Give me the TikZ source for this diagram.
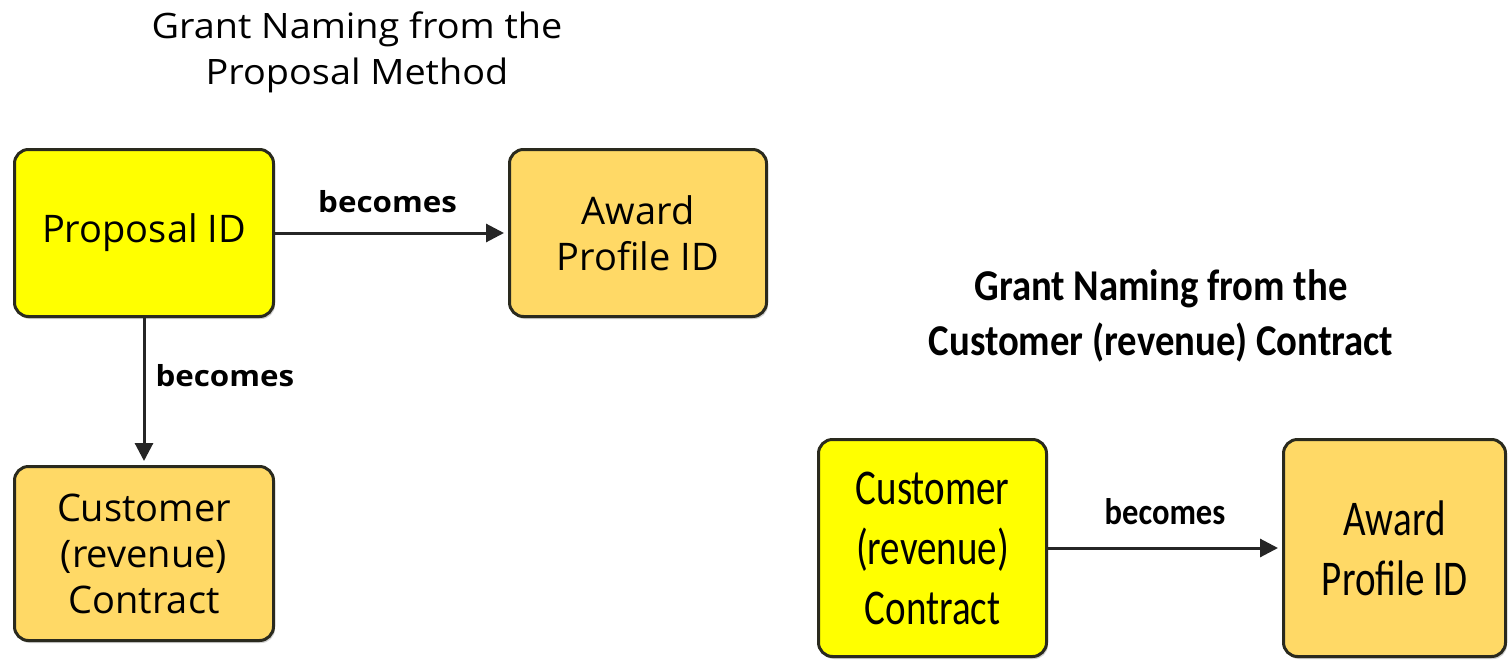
\documentclass[tikz,border=0pt]{standalone}
\usepackage{fontspec}
\setmainfont{Open Sans}
\newfontfamily\ltfont[FakeStretch=1.08]{Open Sans}
\newfontfamily\rfont[FakeStretch=0.78]{Carlito}
\newfontfamily\rtfont[FakeStretch=0.88]{Carlito}
\usetikzlibrary{arrows.meta,shadows}
\definecolor{boxyellow}{HTML}{FFFF00}
\definecolor{boxgold}{HTML}{FFD966}
\definecolor{edge}{HTML}{2A2A1E}
\begin{document}
\begin{tikzpicture}[x=1pt,y=-1pt,
  box/.style={draw=edge, line width=3pt, rounded corners=14pt, align=center,
    inner sep=0pt, drop shadow={shadow xshift=1.5pt, shadow yshift=-2.5pt, fill=black!30, opacity=0.6}},
  lbox/.style={box, font=\fontsize{38}{46}\selectfont},
  rbox/.style={box, font=\rfont\fontsize{50}{60}\selectfont},
  arr/.style={draw=black!85, line width=3pt, -{Triangle[length=18pt,width=18pt]}, shorten >=4pt},
  llab/.style={font=\ltfont\bfseries\fontsize{29}{35}\selectfont, inner sep=0pt},
  rlab/.style={font=\rtfont\bfseries\fontsize{37}{44}\selectfont, inner sep=0pt},
]
\useasboundingbox (0,0) rectangle (1509,661);

\node[align=center, font=\ltfont\fontsize{35}{46}\selectfont] (t1) at (357,52)
  {Grant Naming from the\\Proposal Method};
\node[align=center, font=\rtfont\bfseries\fontsize{44}{55}\selectfont] (t2) at (1161,316)
  {Grant Naming from the\\Customer (revenue) Contract};

\node[lbox, fill=boxyellow, minimum width=259pt, minimum height=167pt] (prop) at (144,233) {Proposal ID};
\node[lbox, fill=boxgold, minimum width=257pt, minimum height=167pt] (aw1) at (638,233) {Award\\Profile ID};
\node[lbox, fill=boxgold, minimum width=259pt, minimum height=174pt] (cu1) at (144,553.5) {Customer\\(revenue)\\Contract};
\node[rbox, fill=boxyellow, minimum width=228pt, minimum height=217pt] (cu2) at (932.5,548) {Customer\\(revenue)\\Contract};
\node[rbox, fill=boxgold, minimum width=222pt, minimum height=217pt] (aw2) at (1394.5,548) {Award\\Profile ID};

\draw[arr] (prop) -- node[llab, pos=0.5, anchor=base, yshift=21pt, xshift=-4pt] {becomes} (aw1);
\draw[arr] (prop) -- node[llab, pos=0.5, anchor=base west, xshift=10pt, yshift=5pt] {becomes} (cu1);
\draw[arr] (cu2) -- node[rlab, pos=0.5, anchor=base, yshift=24pt] {becomes} (aw2);
\end{tikzpicture}
\end{document}
